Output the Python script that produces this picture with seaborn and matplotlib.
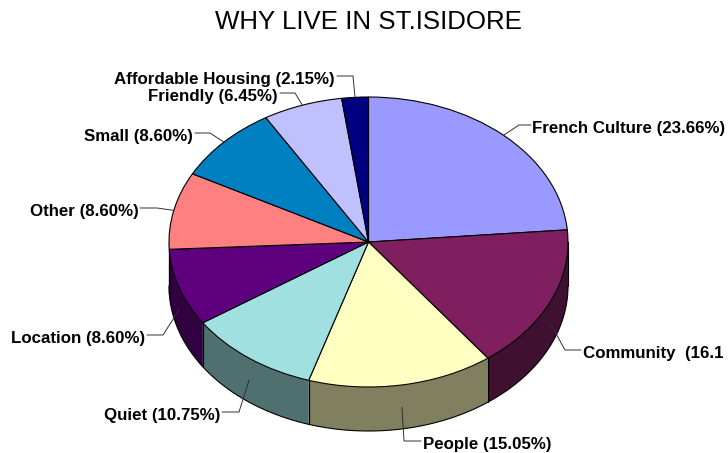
"""Why live in St.Isidore - 3D look pie chart"""

import numpy as np
import pandas as pd
import matplotlib
matplotlib.use('Agg')
import matplotlib.pyplot as plt
import seaborn as sns

# Data
# the Community label runs off the edge in the original, only this much shows
labels = ['French Culture (23.66%)', 'Community  (16.1', 'People (15.05%)',
          'Quiet (10.75%)', 'Location (8.60%)', 'Other (8.60%)', 'Small (8.60%)',
          'Friendly (6.45%)', 'Affordable Housing (2.15%)']
shares = [23.66, 16.13, 15.05, 10.75, 8.60, 8.60, 8.60, 6.45, 2.15]
slice_colors = ['#9999FF', '#7F1F5F', '#FFFFC1', '#A0E0E0', '#5F007F',
                '#FF8080', '#0080C0', '#C0C0FF', '#000080']
title = 'WHY LIVE IN ST.ISIDORE'

# Layout in picture pixels
CX, CY = 368.5, 242
RX, RY = 199.5, 145
DEPTH = 44
W, H = 728, 453

# leader elbow (x, y), leader end x, label anchor x, label ha, per category
label_layout = [
    (519, 125, 531, 532, 'left'),
    (565, 350, 581, 583, 'left'),
    (404, 441, 421, 423, 'left'),
    (239, 412, 222, 220, 'right'),
    (163, 335, 147, 145, 'right'),
    (157, 208, 140, 139, 'right'),
    (210, 133, 195, 193, 'right'),
    (295, 93, 280, 278, 'right'),
    (353, 76, 337, 335, 'right'),
]


def to_x(px):
    return (px - CX) / RX


def to_y(py):
    return (CY - py) / RY


def draw_walls(ax, df):
    """Side of the disc, only on the front half"""
    d = DEPTH / RY
    for _, row in df.iterrows():
        a0, a1 = row['end_angle'], row['start_angle']
        a0, a1 = max(a0, -180), min(a1, 0)
        if a1 <= a0:
            continue
        t = np.radians(np.linspace(a0, a1, 80))
        x = np.cos(t)
        y = np.sin(t)
        ax.fill_between(x, y - d, y, color=row['wall'], edgecolor='none', zorder=1)
        ax.plot(x, y - d, color='black', lw=0.8, zorder=2)
        for tt in (t[0], t[-1]):
            ax.plot([np.cos(tt)] * 2, [np.sin(tt) - d, np.sin(tt)],
                    color='black', lw=0.8, zorder=2)


def draw_labels(ax, df):
    """Leader lines and bold labels"""
    for (_, row), (ex, ey, lx, tx, ha) in zip(df.iterrows(), label_layout):
        t = np.radians(row['mid_angle'])
        x0, y0 = np.cos(t), np.sin(t)
        # front slices point into the middle of the wall
        if y0 < 0:
            y0 -= DEPTH / 2 / RY
        ax.plot([x0, to_x(ex), to_x(lx)], [y0, to_y(ey), to_y(ey)],
                color='#303030', lw=0.7, zorder=5)
        ax.text(to_x(tx), to_y(ey + 3.5), row['label'],
                ha=ha, va='center', fontsize=12.2, fontweight='bold', color='black',
                zorder=6)


def main():
    sns.set_theme(style='white')
    plt.rcParams['font.family'] = ['Liberation Sans', 'DejaVu Sans']

    df = pd.DataFrame({'label': labels, 'share': shares, 'color': slice_colors})
    edges = np.cumsum([0] + shares) / sum(shares) * 360
    df['start_angle'] = 90 - edges[:-1]
    df['end_angle'] = 90 - edges[1:]
    df['mid_angle'] = (df['start_angle'] + df['end_angle']) / 2
    df['wall'] = [tuple(c * 0.5 for c in col) for col in sns.color_palette(slice_colors)]

    fig = plt.figure(figsize=(W / 100, H / 100), dpi=100)
    ax = fig.add_axes([0, 0, 1, 1])

    draw_walls(ax, df)
    ax.pie(df['share'], colors=df['color'], startangle=90, counterclock=False,
           wedgeprops={'edgecolor': 'black', 'linewidth': 0.8, 'zorder': 3})

    # pie sets equal aspect, the disc is squashed to an ellipse here
    ax.set_aspect('auto')
    ax.set_xlim(to_x(0), to_x(W))
    ax.set_ylim(to_y(H), to_y(0))
    ax.axis('off')

    draw_labels(ax, df)
    ax.text(to_x(368), to_y(22), title, ha='center', va='center', fontsize=18.6,
            color='black')

    fig.savefig('out.png', dpi=100)
    plt.close(fig)


if __name__ == "__main__":
    main()
